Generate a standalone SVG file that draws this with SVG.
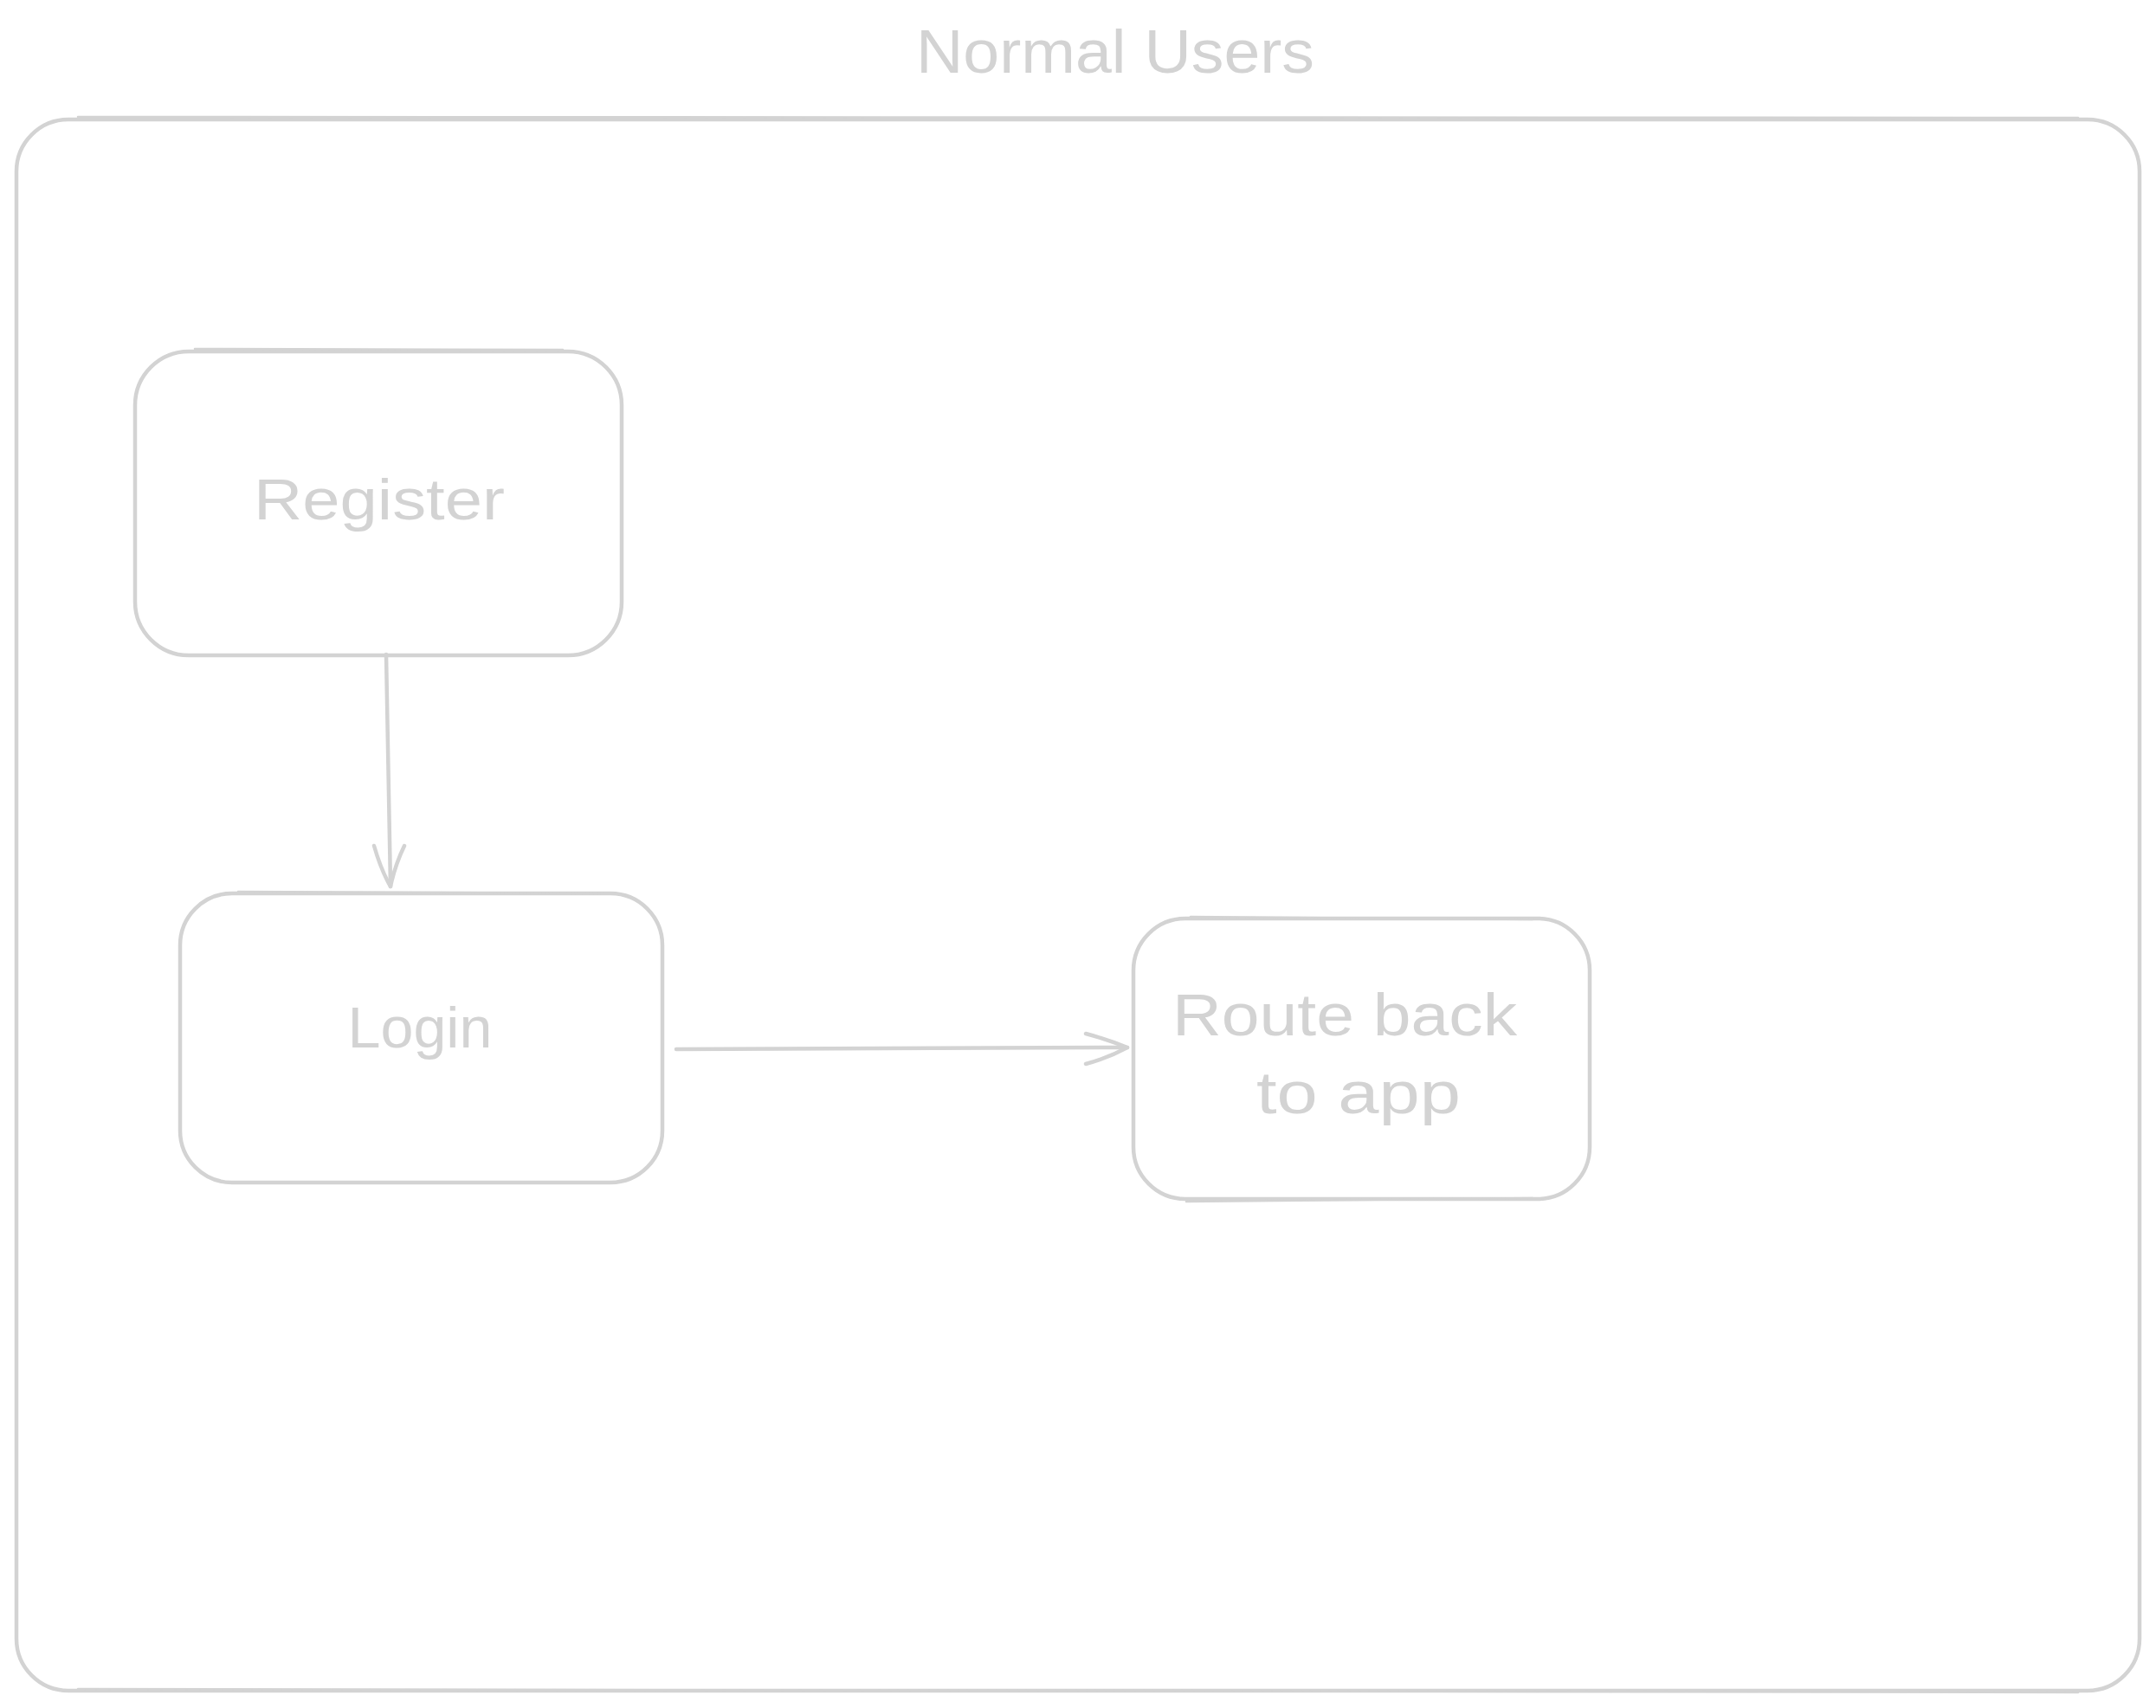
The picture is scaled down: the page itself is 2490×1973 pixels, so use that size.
<svg xmlns="http://www.w3.org/2000/svg" width="2490" height="1973" viewBox="0 0 2490 1973">
<style>
.box{fill:none;stroke:#d3d3d3;stroke-width:4.5;stroke-linecap:round;stroke-linejoin:round}
.box2{fill:none;stroke:#d3d3d3;stroke-width:2.5;stroke-linecap:round}
.lbl{font-family:"Liberation Sans",Arial,sans-serif;fill:#d3d3d3;text-anchor:middle}
.edge{fill:none;stroke:#d3d3d3;stroke-width:4.5;stroke-linecap:round;stroke-linejoin:round}
</style>
<rect width="2490" height="1973" fill="#ffffff"/>
<g id="frame">
<rect class="box" x="19" y="138" width="2452" height="1815" rx="60"/>
<path class="box2" d="M90 135 L2400 136 M90 1951 L2400 1955"/>
<text class="lbl" x="1288" y="84" font-size="70" textLength="460" lengthAdjust="spacingAndGlyphs">Normal Users</text>
</g>
<g id="register">
<rect class="box" x="156" y="406" width="562" height="351" rx="62"/>
<path class="box2" d="M225 403 L650 404"/>
<text class="lbl" x="438" y="600" font-size="67" textLength="290" lengthAdjust="spacingAndGlyphs">Register</text>
</g>
<g id="login">
<rect class="box" x="208" y="1032" width="557" height="334" rx="60"/>
<path class="box2" d="M275 1030 L700 1032"/>
<text class="lbl" x="485" y="1210" font-size="66" textLength="167" lengthAdjust="spacingAndGlyphs">Login</text>
</g>
<g id="route">
<rect class="box" x="1309" y="1061" width="527" height="324" rx="60"/>
<path class="box2" d="M1375 1059 L1770 1062 M1370 1388 L1770 1384"/>
<text class="lbl" x="1553" y="1196" font-size="68" textLength="398" lengthAdjust="spacingAndGlyphs">Route back</text>
<text class="lbl" x="1569" y="1286" font-size="68" textLength="236" lengthAdjust="spacingAndGlyphs">to app</text>
</g>
<g id="connectors">
<path class="edge" d="M446 756 Q448 890 451 1024"/>
<path class="edge" d="M432 977 Q440 1005 451 1024 Q456 1000 467 977"/>
<path class="edge" d="M781 1212 Q1040 1210 1302 1210"/>
<path class="edge" d="M1254 1194 Q1280 1201 1302 1210 Q1280 1222 1254 1229"/>
</g>
</svg>
